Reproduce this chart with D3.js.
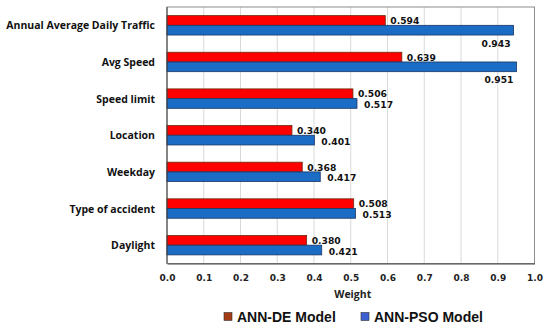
<!DOCTYPE html>
<html>
<head>
<meta charset="utf-8">
<script src="https://cdn.jsdelivr.net/npm/d3@7"></script>
<style>
  body { margin: 0; background: #fff; }
</style>
</head>
<body>
<div id="chart"></div>
<script>
// Data
const factors = ["Annual Average Daily Traffic", "Avg Speed", "Speed limit", "Location",
                 "Weekday", "Type of accident", "Daylight"];
const annDE  = [0.594, 0.639, 0.506, 0.340, 0.368, 0.508, 0.380];
const annPSO = [0.943, 0.951, 0.517, 0.401, 0.417, 0.513, 0.421];
const xTicks = [0, 0.1, 0.2, 0.3, 0.4, 0.5, 0.6, 0.7, 0.8, 0.9, 1.0];
const seriesNames = ["ANN-DE Model", "ANN-PSO Model"];

let width = 550,
    height = 329;

let margin = { top: 7, bottom: 65.5, left: 167, right: 15.5 };

let svg = d3.select('#chart')
  .append('svg')
  .attr('width', width)
  .attr('height', height);

let x = d3.scaleLinear()
  .domain([0, 1])
  .range([margin.left, width - margin.right]);

let y = d3.scaleBand()
  .domain(factors)
  .range([margin.top, height - margin.bottom])
  .paddingInner(0.47)
  .paddingOuter(0.235);

let y1 = d3.scaleBand()
  .domain(seriesNames)
  .range([0, y.bandwidth()]);

const barFill = { "ANN-DE Model": "#ff0000", "ANN-PSO Model": "#1a6cc4" };
const barStroke = { "ANN-DE Model": "#6b2a10", "ANN-PSO Model": "#1b3563" };
const legendFill = { "ANN-DE Model": "#a33b14", "ANN-PSO Model": "#3d5fcf" };

// gridlines
svg.append('g')
  .selectAll('line')
  .data(xTicks.slice(1, -1))
  .enter()
  .append('line')
  .attr('x1', d => x(d)).attr('x2', d => x(d))
  .attr('y1', margin.top).attr('y2', height - margin.bottom)
  .attr('stroke', '#d9d9d9')
  .attr('stroke-width', 1);

// plot border
svg.append('rect')
  .attr('x', margin.left)
  .attr('y', margin.top)
  .attr('width', x(1) - x(0))
  .attr('height', height - margin.bottom - margin.top)
  .attr('fill', 'none')
  .attr('stroke', '#8c8c8c')
  .attr('stroke-width', 1);

// bars
const rows = factors.map((f, i) => ({ factor: f, values: [annDE[i], annPSO[i]] }));

const groups = svg.selectAll('.grp')
  .data(rows)
  .enter()
  .append('g')
  .attr('transform', d => `translate(0, ${y(d.factor)})`);

groups.selectAll('rect')
  .data(d => d.values.map((v, j) => ({ name: seriesNames[j], value: v })))
  .enter()
  .append('rect')
  .attr('x', x(0))
  .attr('y', d => y1(d.name))
  .attr('width', d => x(d.value) - x(0))
  .attr('height', y1.bandwidth())
  .attr('fill', d => barFill[d.name])
  .attr('stroke', d => barStroke[d.name])
  .attr('stroke-width', 0.8);

// value labels (the two long blue bars get theirs underneath)
groups.selectAll('.val')
  .data(d => d.values.map((v, j) => ({ name: seriesNames[j], value: v })))
  .enter()
  .append('text')
  .attr('class', 'val')
  .attr('x', d => d.value > 0.9 ? x(d.value) - 3 : x(d.value) + (d.name === seriesNames[0] ? 5 : 7))
  .attr('y', d => {
    let cy = y1(d.name) + y1.bandwidth() / 2;
    if (d.value > 0.9) return y1(d.name) + y1.bandwidth() + 11.5;
    return cy + (d.name === seriesNames[0] ? 0 : 1);
  })
  .attr('dominant-baseline', d => d.value > 0.9 ? 'auto' : 'central')
  .attr('text-anchor', d => d.value > 0.9 ? 'end' : 'start')
  .style('font-family', 'DejaVu Sans')
  .style('font-weight', 'bold')
  .style('font-size', '9.2px')
  .style('fill', '#111')
  .text(d => d.value.toFixed(3));

// category labels
svg.append('g')
  .selectAll('text')
  .data(factors)
  .enter()
  .append('text')
  .attr('x', 155)
  .attr('y', d => y(d) + y.bandwidth() / 2)
  .attr('dominant-baseline', 'central')
  .attr('text-anchor', 'end')
  .style('font-family', 'Open Sans')
  .style('font-weight', 'bold')
  .style('font-size', '10.5px')
  .style('fill', '#111')
  .text(d => d);

// x axis
let xAxis = svg.append('g')
  .attr('transform', `translate(0, ${height - margin.bottom})`)
  .call(d3.axisBottom(x).tickValues(xTicks).tickFormat(d3.format('.1f')).tickSize(0).tickPadding(11));
xAxis.select('.domain').attr('stroke', '#444');
xAxis.selectAll('text')
  .style('font-family', 'DejaVu Sans')
  .style('font-weight', 'bold')
  .style('font-size', '9px')
  .style('fill', '#222');

// left axis line
svg.append('line')
  .attr('x1', x(0)).attr('x2', x(0))
  .attr('y1', margin.top).attr('y2', height - margin.bottom)
  .attr('stroke', '#444');

// x axis title
svg.append('text')
  .attr('x', (x(0) + x(1)) / 2 + 2)
  .attr('y', 297.5)
  .style('text-anchor', 'middle')
  .style('font-family', 'Open Sans')
  .style('font-weight', 'bold')
  .style('font-size', '10.5px')
  .style('fill', '#222')
  .text('Weight');

// legend
const legendX = [224, 361];
seriesNames.forEach((name, i) => {
  svg.append('rect')
    .attr('x', legendX[i])
    .attr('y', 312.5)
    .attr('width', 8)
    .attr('height', 8)
    .attr('fill', legendFill[name])
    .attr('stroke', '#333')
    .attr('stroke-width', 0.6);
  svg.append('text')
    .attr('x', legendX[i] + 13)
    .attr('y', 322)
    .style('font-family', 'Liberation Sans')
    .style('font-weight', 'bold')
    .style('font-size', '14px')
    .style('fill', '#111')
    .text(name);
});
</script>
</body>
</html>
